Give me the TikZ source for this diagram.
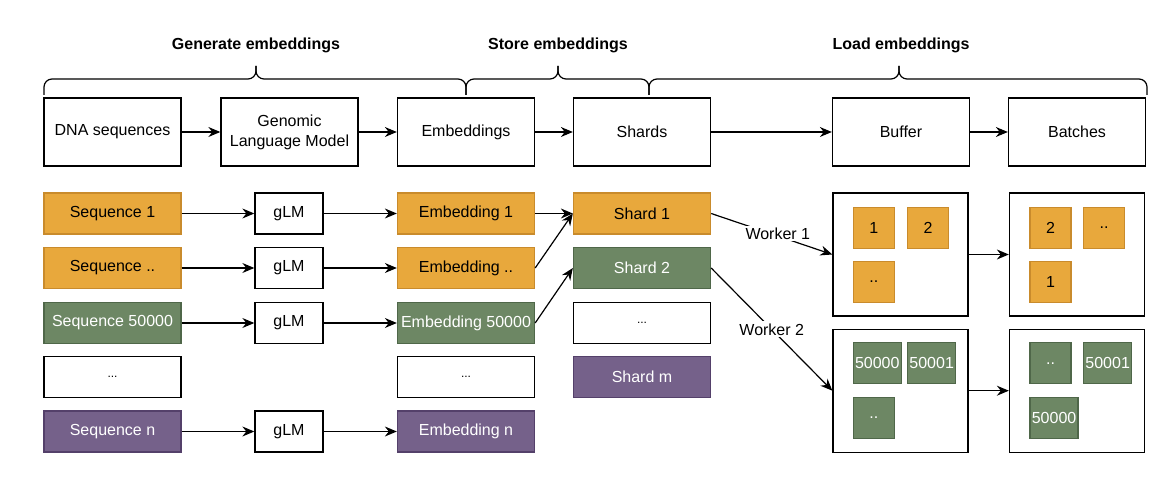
\documentclass[tikz,border=0pt]{standalone}
\usepackage{fontspec}
\setmainfont{Liberation Sans}
\usetikzlibrary{arrows.meta}
\definecolor{arancioF}{HTML}{E8A83C}
\definecolor{arancioB}{HTML}{C98B2C}
\definecolor{verdeF}{HTML}{6D8764}
\definecolor{verdeB}{HTML}{4F6749}
\definecolor{violaF}{HTML}{75618A}
\definecolor{violaB}{HTML}{54406A}
\begin{document}
\begin{tikzpicture}[x=0.75pt, y=-0.75pt,
	blocco/.style={draw=black, fill=white, line width=1pt, minimum width=102.75pt, minimum height=51pt, inner sep=1pt, align=center, font=\fontsize{12}{15}\selectfont},
	riga/.style={blocco, minimum height=30.75pt},
	corto/.style={riga, minimum width=51pt},
	contenitore/.style={draw=black, fill=white, line width=1pt, minimum width=101.25pt, minimum height=92.25pt},
	quadretto/.style={line width=1pt, minimum width=30.75pt, minimum height=30.75pt, inner sep=0pt, anchor=west, font=\fontsize{12}{14}\selectfont},
	largo/.style={quadretto, minimum width=36pt},
	arancio/.style={fill=arancioF, draw=arancioB, text=black},
	verde/.style={fill=verdeF, draw=verdeB, text=white},
	viola/.style={fill=violaF, draw=violaB, text=white},
	puntini/.style={font=\fontsize{9}{10}\selectfont},
	freccia/.style={line width=0.9pt, -{Stealth[length=9pt, width=7.5pt, inset=3pt]}},
	titolo/.style={font=\fontsize{12}{14}\selectfont\bfseries},
	graffa/.style={line width=0.9pt, rounded corners=6pt},
	etich/.style={fill=white, inner sep=1.5pt, font=\fontsize{12}{14}\selectfont},
	]
	
	\newcommand{\graffa}[3]{%
		\draw[graffa](#1,95) |- (#2,79) -- (#2,66);
		\draw[graffa](#3,95) |- (#2,79) -- (#2,66);}
	
	\useasboundingbox (0,0) rectangle (1176,484);
	
	%% =========================================================
	%% FASI E GRAFFE
	%% =========================================================
	\node[titolo](tgen) at (256,45) {Generate embeddings};
	\node[titolo](tsto) at (558,45) {Store embeddings};
	\node[titolo](tloa) at (901,45) {Load embeddings};
	\graffa{44}{256}{466}
	\graffa{466}{558}{649}
	\graffa{649}{899}{1147}
	
	%% =========================================================
	%% RIGA DI TESTA
	%% =========================================================
	\foreach \n/\x/\t in {dna/112.5/DNA sequences, glm/289.5/{Genomic\\Language Model},
		emb/466/Embeddings, sha/642/Shards, buf/901/Buffer, bat/1077/Batches}
	\node[blocco](\n) at (\x,132) {\t};
	\draw[freccia](dna) -- (glm);
	\draw[freccia](glm) -- (emb);
	\draw[freccia](emb) -- (sha);
	\draw[freccia](sha) -- (buf);
	\draw[freccia](buf) -- (bat);
	
	%% =========================================================
	%% SEQUENZE, gLM, EMBEDDING
	%% =========================================================
	\foreach \k/\y/\c/\s/\e in {1/213.5/arancio/Sequence 1/Embedding 1,
		2/268/arancio/Sequence ../Embedding ..,
		3/323/verde/Sequence 50000/Embedding 50000,
		5/431.5/viola/Sequence n/Embedding n}{
		\node[riga,\c](s\k) at (112.5,\y) {\s};
		\node[corto](g\k) at (289,\y) {gLM};
		\node[riga,\c](e\k) at (466,\y) {\e};
		\draw[freccia](s\k) -- (g\k);
		\draw[freccia](g\k) -- (e\k);}
	\node[riga,puntini](s4) at (112.5,377) {...};
	\node[riga,puntini](e4) at (466,377) {...};
	
	%% =========================================================
	%% SHARD
	%% =========================================================
	\node[riga,arancio](h1) at (642,213.5) {Shard 1};
	\node[riga,verde](h2) at (642,268) {Shard 2};
	\node[riga,puntini](h3) at (642,323) {...};
	\node[riga,viola](h4) at (642,377) {Shard m};
	\draw[freccia](e1) -- (h1);
	\draw[freccia](e2.east) -- (h1.west);
	\draw[freccia](e3.east) -- (h2.west);
	
	%% =========================================================
	%% BUFFER E BATCH
	%% =========================================================
	\node[contenitore](b1) at (900.5,254.5) {};
	\node[contenitore](b2) at (900.5,390.7) {};
	\node[contenitore](c1) at (1077,254.5) {};
	\node[contenitore](c2) at (1077,390.7) {};
	%% worker 1
	\node[quadretto,arancio](b1a) at (852.6,227.8) {1};
	\node[quadretto,arancio](b1b) at (907,227.8) {2};
	\node[quadretto,arancio](b1c) at (852.6,282) {..};
	\node[quadretto,arancio](c1a) at (1029.4,227.8) {2};
	\node[quadretto,arancio](c1b) at (1083,227.8) {..};
	\node[quadretto,arancio](c1c) at (1029.4,282) {1};
	%% worker 2
	\node[largo,verde](b2a) at (852.6,363.3) {50000};
	\node[largo,verde](b2b) at (907,363.3) {50001};
	\node[quadretto,verde](b2c) at (852.6,417.8) {..};
	\node[quadretto,verde](c2a) at (1029.4,363.3) {..};
	\node[largo,verde](c2b) at (1083,363.3) {50001};
	\node[largo,verde](c2c) at (1029.4,417.8) {50000};
	
	\draw[freccia](h1.east) -- node[etich, pos=0.55, yshift=2pt]{Worker 1} (b1.west);
	\draw[freccia](h2.east) -- node[etich]{Worker 2} (b2.west);
	\draw[freccia](b1) -- (c1);
	\draw[freccia](b2) -- (c2);
	
\end{tikzpicture}
\end{document}
